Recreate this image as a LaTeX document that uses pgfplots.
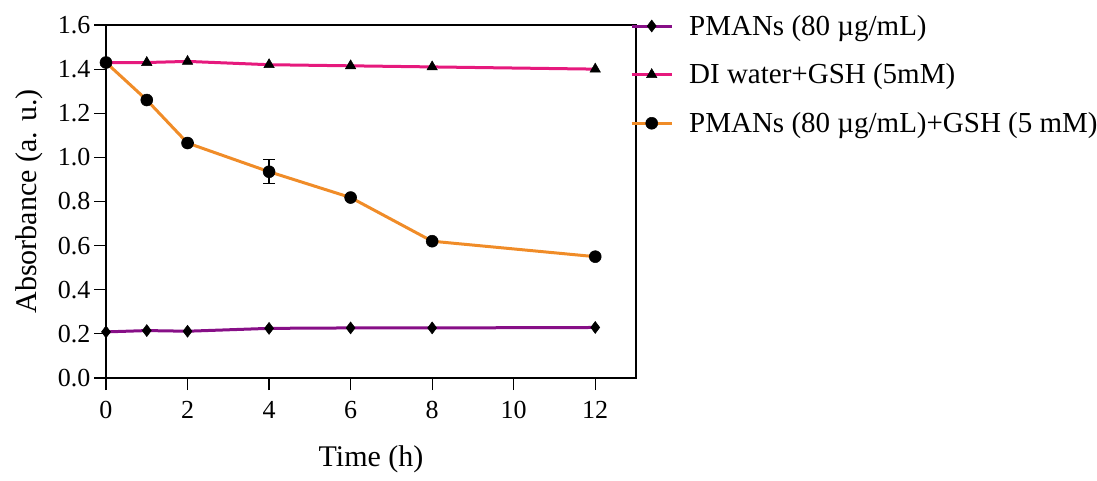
\documentclass[border=0pt]{standalone}
\usepackage{fontspec}
\setmainfont{Liberation Serif}
\usepackage{pgfplots}
\pgfplotsset{compat=1.18}
\definecolor{cpurple}{RGB}{135,15,135}
\definecolor{cpink}{RGB}{230,25,125}
\definecolor{corange}{RGB}{240,140,40}
\begin{document}
\begin{tikzpicture}
\path[use as bounding box] (-106pt,-102pt) rectangle (991pt,378pt);
\begin{axis}[
  scale only axis, width=530pt, height=353pt,
  xmin=0, xmax=13, ymin=0, ymax=1.6,
  xtick={0,2,4,6,8,10,12}, ytick={0,0.2,...,1.6},
  yticklabel style={/pgf/number format/fixed,/pgf/number format/fixed zerofill,/pgf/number format/precision=1},
  /pgf/number format/assume math mode=true,
  tick align=outside, tick pos=left, major tick length=12pt,
  every tick/.style={black, line width=1.2pt},
  axis line style={line width=1.2pt},
  ticklabel style={font=\fontsize{26}{30}\selectfont},
  xticklabel style={yshift=-8pt},
  xlabel={Time (h)}, ylabel={Absorbance (a. u.)},
  label style={font=\fontsize{30}{35}\selectfont},
  xlabel style={yshift=-20pt},
  ylabel style={yshift=8pt},
  legend cell align=left,
  legend style={at={(axis description cs:1,1)}, xshift=-9pt, yshift=14pt, anchor=north west, draw=none, fill=none,
    font=\fontsize{29}{33}\selectfont, row sep=23pt,
    nodes={inner xsep=16pt}},
  legend image code/.code={\draw[mark repeat=2,mark phase=2] plot coordinates {(0pt,0pt)(20pt,0pt)(40pt,0pt)};},
  clip=false,
]
\addplot[cpurple, line width=3pt, mark=diamond*, mark size=6pt, mark options={black, fill=black, line width=0.5pt}]
 coordinates {(0,0.209)(1,0.215)(2,0.212)(4,0.225)(6,0.227)(8,0.227)(12,0.229)};
\addlegendentry{PMANs (80 µg/mL)}
\addplot[cpink, line width=3pt, mark=triangle*, mark size=6pt, mark options={black, fill=black, line width=0.5pt}]
 coordinates {(0,1.43)(1,1.43)(2,1.435)(4,1.42)(6,1.415)(8,1.41)(12,1.40)};
\addlegendentry{DI water+GSH (5mM)}
\addplot[corange, line width=3pt, mark=*, mark size=6pt, mark options={black, fill=black, line width=0.5pt},
  error bars/.cd, y dir=both, y explicit, error bar style={black, line width=1.2pt}, error mark options={black, rotate=90, mark size=6pt, line width=1.2pt}]
 coordinates {(0,1.43) +- (0,0) (1,1.26) +- (0,0) (2,1.065) +- (0,0) (4,0.935) +- (0,0.055) (6,0.818) +- (0,0) (8,0.62) +- (0,0) (12,0.55) +- (0,0)};
\addlegendentry{PMANs (80 µg/mL)+GSH (5 mM)}
\end{axis}
\end{tikzpicture}
\end{document}
